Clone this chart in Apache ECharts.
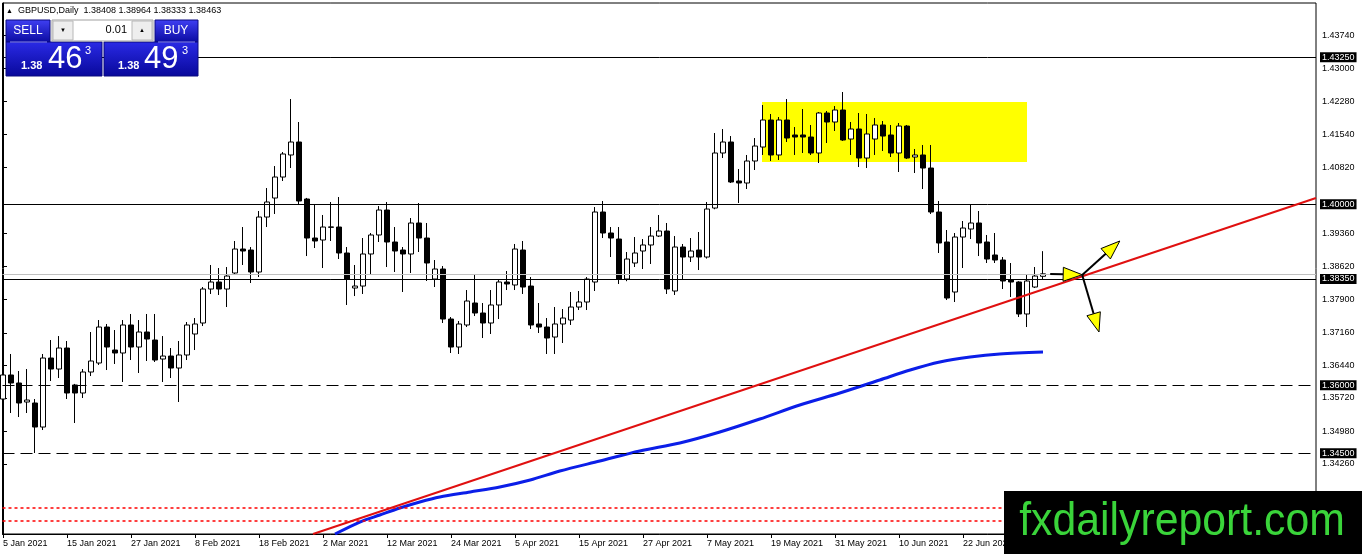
<!DOCTYPE html>
<html>
<head>
<meta charset="utf-8">
<script src="https://cdn.jsdelivr.net/npm/echarts@6/dist/echarts.min.js"></script>
<style>
html,body{margin:0;padding:0;background:#fff;}
#chart{width:1362px;height:554px;}
</style>
</head>
<body>
<div id="chart"></div>
<script>
// ---------- DATA ----------
// daily candles, index 0 = 5 Jan 2021 ... index 130 = 6 Jul 2021 ; [open, close, low, high]
const ohlc = [
[1.35696,1.36227,1.35519,1.36403],[1.36227,1.36050,1.35387,1.36691],[1.36050,1.35608,1.35298,1.36315],
[1.35630,1.35674,1.35387,1.36359],[1.35608,1.35077,1.34503,1.35696],[1.35077,1.36602,1.35011,1.36691],
[1.36602,1.36359,1.36094,1.37000],[1.36359,1.36823,1.36160,1.37088],[1.36823,1.35829,1.35696,1.36978],
[1.36006,1.35829,1.35166,1.36030],[1.35829,1.36293,1.35718,1.36359],[1.36293,1.36536,1.36204,1.37177],
[1.36492,1.37287,1.36448,1.37442],[1.37287,1.36845,1.36337,1.37354],[1.36779,1.36713,1.36470,1.37221],
[1.36713,1.37332,1.36072,1.37442],[1.37332,1.36845,1.36558,1.37575],[1.36845,1.37177,1.36271,1.37442],
[1.37177,1.37022,1.36536,1.37575],[1.37000,1.36558,1.36514,1.37575],[1.36580,1.36646,1.36072,1.37088],
[1.36646,1.36381,1.36160,1.36823],[1.36381,1.36669,1.35630,1.36978],[1.36669,1.37332,1.36558,1.37398],
[1.37133,1.37354,1.36779,1.37486],[1.37376,1.38127,1.37309,1.38171],[1.38127,1.38282,1.38017,1.38658],
[1.38282,1.38127,1.37995,1.38591],[1.38127,1.38414,1.37729,1.38613],[1.38481,1.39011,1.38459,1.39188],
[1.39011,1.38967,1.38658,1.39497],[1.38989,1.38503,1.38260,1.39055],[1.38503,1.39718,1.38392,1.39851],
[1.39718,1.40050,1.39497,1.40359],[1.40138,1.40602,1.39785,1.40845],[1.40602,1.41111,1.40514,1.41155],
[1.41089,1.41376,1.40801,1.42326],[1.41376,1.40072,1.39984,1.41818],[1.40116,1.39254,1.38856,1.40140],
[1.39254,1.39188,1.39033,1.40006],[1.39210,1.39497,1.38591,1.39763],[1.39490,1.39500,1.39188,1.40050],
[1.39497,1.38923,1.38790,1.40160],[1.38923,1.38348,1.37774,1.39055],[1.38149,1.38193,1.37972,1.38658],
[1.38193,1.38901,1.38017,1.39254],[1.38901,1.39321,1.38459,1.39365],[1.39321,1.39873,1.39166,1.39961],
[1.39873,1.39166,1.38613,1.40050],[1.39166,1.38967,1.38503,1.39497],[1.38989,1.38901,1.38061,1.39055],
[1.38901,1.39586,1.38481,1.39696],[1.39586,1.39254,1.38945,1.40028],[1.39254,1.38702,1.38304,1.39586],
[1.38348,1.38569,1.38171,1.38768],[1.38569,1.37464,1.37376,1.38635],[1.37464,1.36845,1.36713,1.37508],
[1.36845,1.37354,1.36691,1.37420],[1.37332,1.37862,1.37287,1.38105],[1.37818,1.37597,1.37530,1.38459],
[1.37597,1.37376,1.37044,1.37818],[1.37376,1.37774,1.37133,1.38105],[1.37774,1.38282,1.37464,1.38348],
[1.38282,1.38238,1.38105,1.38525],[1.38216,1.39011,1.38105,1.39122],[1.38989,1.38171,1.38017,1.39188],
[1.38193,1.37332,1.37243,1.38392],[1.37354,1.37287,1.37155,1.37818],[1.37287,1.37044,1.36691,1.37486],
[1.37066,1.37354,1.36691,1.37729],[1.37354,1.37486,1.36934,1.37685],[1.37442,1.37729,1.37332,1.38061],
[1.37729,1.37840,1.37663,1.38083],[1.37840,1.38348,1.37663,1.38392],[1.38282,1.39829,1.38083,1.39939],
[1.39829,1.39365,1.39254,1.40072],[1.39365,1.39254,1.38834,1.39497],[1.39232,1.38348,1.38238,1.39497],
[1.38348,1.38790,1.38300,1.38945],[1.38702,1.38923,1.38613,1.39276],[1.38967,1.39100,1.38569,1.39232],
[1.39100,1.39298,1.38680,1.39497],[1.39298,1.39409,1.39276,1.39763],[1.39409,1.38127,1.38017,1.39586],
[1.38083,1.39055,1.37995,1.39298],[1.39055,1.38834,1.38348,1.39122],[1.38834,1.38967,1.38724,1.39254],
[1.38989,1.38834,1.38547,1.39387],[1.38834,1.39895,1.38800,1.40050],[1.39917,1.41133,1.39890,1.41575],
[1.41133,1.41376,1.41022,1.41663],[1.41376,1.40492,1.40470,1.41508],[1.40514,1.40470,1.40028,1.40779],
[1.40470,1.40956,1.40337,1.41089],[1.40956,1.41287,1.40757,1.41464],[1.41265,1.41862,1.41089,1.42194],
[1.41862,1.41089,1.40956,1.41995],[1.41089,1.41862,1.40978,1.41928],[1.41862,1.41464,1.41376,1.42326],
[1.41531,1.41486,1.41089,1.41707],[1.41531,1.41486,1.41133,1.42105],[1.41486,1.41133,1.41089,1.41752],
[1.41133,1.42017,1.40912,1.42039],[1.42017,1.41818,1.41354,1.42061],[1.41818,1.42083,1.41619,1.42171],
[1.42083,1.41420,1.41400,1.42481],[1.41442,1.41663,1.41089,1.41818],[1.41663,1.41022,1.40823,1.42017],
[1.41022,1.41553,1.40801,1.41995],[1.41442,1.41752,1.41089,1.41906],[1.41752,1.41508,1.41177,1.41840],
[1.41531,1.41133,1.41044,1.41752],[1.41133,1.41729,1.40713,1.41796],[1.41729,1.41022,1.41000,1.41752],
[1.41044,1.41089,1.40691,1.41221],[1.41089,1.40801,1.40337,1.41310],[1.40801,1.39829,1.39785,1.41310],
[1.39829,1.39144,1.38923,1.40072],[1.39166,1.37928,1.37884,1.39431],[1.38061,1.39276,1.37840,1.39365],
[1.39276,1.39475,1.38591,1.39630],[1.39453,1.39586,1.39232,1.39984],[1.39586,1.39144,1.38856,1.39851],
[1.39166,1.38790,1.38702,1.39321],[1.38879,1.38768,1.38702,1.39365],[1.38768,1.38304,1.38127,1.38834],
[1.38326,1.38282,1.37950,1.38702],[1.38282,1.37575,1.37508,1.38300],[1.37575,1.38304,1.37287,1.38437],
[1.38171,1.38414,1.38149,1.38613],[1.38408,1.38463,1.38333,1.38964]
];
// time axis labels (bar index -> label)
const dateTickIndex = [0,8,16,24,32,40,48,56,64,72,80,88,96,104,112,120,128];
const dateLabels = ['5 Jan 2021','15 Jan 2021','27 Jan 2021','8 Feb 2021','18 Feb 2021','2 Mar 2021','12 Mar 2021','24 Mar 2021','5 Apr 2021','15 Apr 2021','27 Apr 2021','7 May 2021','19 May 2021','31 May 2021','10 Jun 2021','22 Jun 2021','2 Jul 2021'];
// price axis labels
const priceTicks = [1.43740,1.43000,1.42280,1.41540,1.40820,1.39360,1.38620,1.37900,1.37160,1.36440,1.35720,1.34980,1.34260];
// horizontal levels
const solidLevels = [1.43250,1.40000,1.38350];
const dashedLevels = [1.36000,1.34500];
const dottedLevels = [1.33300,1.33000];
const bidPrice = 1.38463;
// moving average (bar index, value)
const maPoints = [[41.5,1.32713],[44.6,1.32978],[47.1,1.33133],[49.6,1.33287],[52.1,1.33420],[54.6,1.33530],
[58.4,1.33641],[62.1,1.33751],[65.9,1.33906],[69.6,1.34105],[74.6,1.34326],[79.6,1.34547],[84.6,1.34724],
[89.6,1.34967],[94.6,1.35254],[99.6,1.35564],[104.6,1.35829],[109.6,1.36116],[113.4,1.36337],[117.1,1.36514],
[120.9,1.36624],[124.6,1.36691],[130,1.36735]];
// trend line (bar index, price)
const trendLine = [[38.75,1.32713],[164.125,1.40138]];
// yellow zone [x1, price top, x2, price bottom]
const zone = [[94.875,1.42260,128.0,1.40934]];
// arrows [fromIndex, fromPrice, toIndex, toPrice]
const arrows = [[130.9,1.38459,134.9,1.38443],[134.9,1.38437,139.6,1.39188],[134.9,1.38437,137.0,1.37177]];
// header
const symbolTitle = 'GBPUSD,Daily';
const headerValues = '1.38408 1.38964 1.38333 1.38463';

// ---------- CHART ----------
const FONT = 'Liberation Sans';
const chart = echarts.init(document.getElementById('chart'), null, {renderer:'canvas'});
const candleData = ohlc.map((d,i)=>[i, d[0], d[1], d[2], d[3]]);
const labelMap = {};
dateTickIndex.forEach((v,i)=>labelMap[v]=dateLabels[i]);

const levelLabel = {show:true, position:'end', distance:4, formatter:p=>Number(p.value).toFixed(5),
  color:'#fff', backgroundColor:'#000', padding:[1,2,0,2], fontSize:9, fontFamily:FONT};
const markData = [];
dottedLevels.forEach(v=>markData.push({yAxis:v, lineStyle:{color:'#ff0000', width:1.5, type:[3,3]}, label:{show:false}}));
markData.push({yAxis:bidPrice, lineStyle:{color:'#c0c0c0', width:1, type:'solid'}, label:{show:false}});
solidLevels.forEach(v=>markData.push({yAxis:v, lineStyle:{color:'#000', width:1, type:'solid'}, label:levelLabel}));
dashedLevels.forEach(v=>markData.push({yAxis:v, lineStyle:{color:'#000', width:1, type:[12,6]}, label:levelLabel}));

function textEl(x,y,text,size,color,opts){
  opts = opts||{};
  return {type:'text', x:x, y:y, z:opts.z||100, style:{text:text, fill:color,
    font:(opts.weight||'normal')+' '+size+'px "'+(opts.family||FONT)+'"',
    textAlign:opts.align||'left', align:opts.align||'left', textVerticalAlign:'middle', verticalAlign:'middle'}};
}
const blueGrad = {type:'linear', x:0, y:0, x2:0, y2:1, colorStops:[{offset:0,color:'#4040f4'},{offset:1,color:'#0a0aa0'}]};
const blueGrad2 = {type:'linear', x:0, y:0, x2:0, y2:1, colorStops:[{offset:0,color:'#2a2ae6'},{offset:1,color:'#08089a'}]};

const graphics = [
  textEl(6,11,'▲',7,'#000'),
  textEl(18,11,symbolTitle+'  '+headerValues,9,'#000'),
  // sell / buy buttons
  {type:'rect', z:99, shape:{x:6,y:20,width:44,height:22}, style:{fill:blueGrad, stroke:'#0b0b80', lineWidth:1}},
  {type:'rect', z:99, shape:{x:155,y:20,width:43,height:22}, style:{fill:blueGrad, stroke:'#0b0b80', lineWidth:1}},
  {type:'rect', z:99, shape:{x:6,y:42,width:96,height:34}, style:{fill:blueGrad2, stroke:'#0b0b80', lineWidth:1}},
  {type:'rect', z:99, shape:{x:104,y:42,width:94,height:34}, style:{fill:blueGrad2, stroke:'#0b0b80', lineWidth:1}},
  {type:'line', z:100, shape:{x1:10,y1:42,x2:47,y2:42}, style:{stroke:'#8a8aff', lineWidth:1}},
  {type:'line', z:100, shape:{x1:158,y1:42,x2:195,y2:42}, style:{stroke:'#8a8aff', lineWidth:1}},
  // lot field
  {type:'rect', z:99, shape:{x:52,y:20,width:101,height:21}, style:{fill:'#ffffff', stroke:'#a0a0a0', lineWidth:1}},
  {type:'rect', z:99, shape:{x:53,y:21,width:20,height:19}, style:{fill:'#eeeeee', stroke:'#b8b8b8', lineWidth:1}},
  {type:'rect', z:99, shape:{x:132,y:21,width:20,height:19}, style:{fill:'#eeeeee', stroke:'#b8b8b8', lineWidth:1}},
  textEl(63,30,'▼',6,'#000',{align:'center'}),
  textEl(142,30,'▲',6,'#000',{align:'center'}),
  textEl(127,30,'0.01',11,'#000',{align:'right'}),
  textEl(28,31,'SELL',12,'#fff',{align:'center'}),
  textEl(176,31,'BUY',12,'#fff',{align:'center'}),
  textEl(21,66,'1.38',11,'#fff',{weight:'bold'}),
  textEl(48,59,'46',31,'#fff'),
  textEl(85,51,'3',11,'#fff'),
  textEl(118,66,'1.38',11,'#fff',{weight:'bold'}),
  textEl(144,59,'49',31,'#fff'),
  textEl(182,51,'3',11,'#fff'),
  // watermark box
  {type:'rect', z:110, shape:{x:1004,y:491,width:358,height:63}, style:{fill:'#000'}},
  {type:'text', z:111, x:1182, y:522, scaleX:0.93, style:{text:'fxdailyreport.com', fill:'#3ad43a',
    font:'46px "Liberation Sans"', textAlign:'center', align:'center', textVerticalAlign:'middle', verticalAlign:'middle'}}
];

const option = {
  animation:false,
  backgroundColor:'#fff',
  grid:{left:2.5, top:3, right:46, bottom:20, show:true, borderColor:'#000', borderWidth:1, backgroundColor:'transparent'},
  xAxis:{type:'value', min:-0.0625, max:164.125, splitLine:{show:false},
    axisLine:{show:true, lineStyle:{color:'#000'}},
    axisTick:{show:true, length:4, lineStyle:{color:'#000'}, customValues:dateTickIndex},
    axisLabel:{show:true, customValues:dateTickIndex, formatter:v=>labelMap[v]||'', align:'left',
      color:'#000', fontSize:9, fontFamily:FONT, margin:5}},
  yAxis:{type:'value', position:'right', min:1.32713, max:1.44448, scale:true, splitLine:{show:false},
    axisLine:{show:true, lineStyle:{color:'#000'}},
    axisTick:{show:true, length:4, lineStyle:{color:'#000'}, customValues:priceTicks},
    axisLabel:{show:true, customValues:priceTicks, formatter:v=>v.toFixed(5), color:'#000', fontSize:9, fontFamily:FONT, margin:6}},
  series:[
    {type:'custom', name:'zone', z:1, clip:true, encode:{x:[0,2], y:[1,3]}, data:zone,
      renderItem:(params, api)=>{
        const a = api.coord([api.value(0), api.value(1)]);
        const b = api.coord([api.value(2), api.value(3)]);
        return {type:'rect', shape:{x:a[0], y:a[1], width:b[0]-a[0], height:b[1]-a[1]}, style:{fill:'#ffff00'}};
      }},
    {type:'candlestick', name:'GBPUSD', z:3, data:candleData, encode:{x:0, y:[1,2,3,4]}, barWidth:5, clip:true,
      itemStyle:{color:'#ffffff', color0:'#000000', borderColor:'#000000', borderColor0:'#000000', borderWidth:1},
      markLine:{silent:true, precision:5, symbol:['none','none'], animation:false, data:markData}},
    {type:'line', name:'MA', z:4, data:maPoints, smooth:0.3, symbol:'none', clip:true,
      lineStyle:{color:'#0b1ee8', width:3}},
    {type:'line', name:'trend', z:5, data:trendLine, symbol:'none', clip:true,
      lineStyle:{color:'#e01010', width:2}},
    {type:'custom', name:'arrows', z:6, clip:false, encode:{x:[0,2], y:[1,3]}, data:arrows,
      renderItem:(params, api)=>{
        const p1 = api.coord([api.value(0), api.value(1)]);
        const p2 = api.coord([api.value(2), api.value(3)]);
        const dx = p2[0]-p1[0], dy = p2[1]-p1[1];
        const len = Math.hypot(dx,dy); const ux = dx/len, uy = dy/len;
        const hl = 19, hw = 7;
        const bx = p2[0]-ux*hl, by = p2[1]-uy*hl;
        return {type:'group', children:[
          {type:'line', shape:{x1:p1[0], y1:p1[1], x2:bx, y2:by}, style:{stroke:'#000', lineWidth:2}},
          {type:'polygon', shape:{points:[[p2[0],p2[1]],[bx-uy*hw, by+ux*hw],[bx+uy*hw, by-ux*hw]]},
            style:{fill:'#ffff00', stroke:'#000', lineWidth:1}}
        ]};
      }}
  ],
  graphic:graphics
};
chart.setOption(option);
</script>
</body>
</html>
